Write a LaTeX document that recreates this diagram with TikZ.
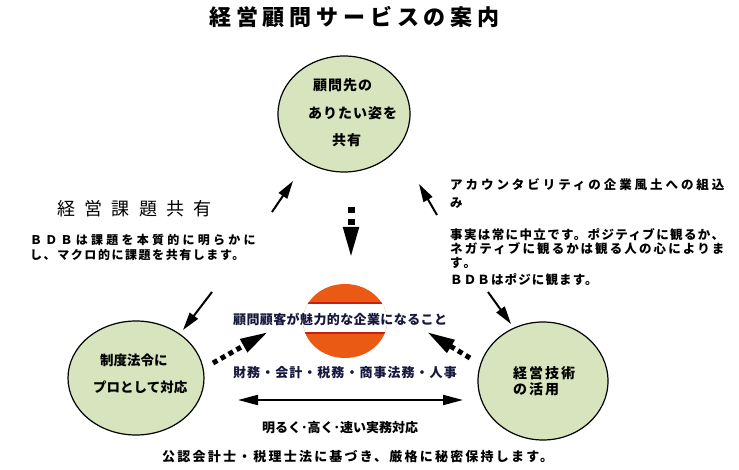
\documentclass[tikz,border=0pt]{standalone}
\usepackage{fontspec}
\newfontfamily\jp{Noto Sans CJK JP}
\usetikzlibrary{arrows.meta,shapes.geometric}
\definecolor{cgreen}{HTML}{D7E4BD}
\definecolor{corange}{HTML}{EB5A14}
\definecolor{cred}{HTML}{C8200A}
\definecolor{cnavy}{HTML}{16163E}
\newcommand{\fs}[2]{\fontsize{#1}{#1}\selectfont\addfontfeature{LetterSpace=#2}}
\tikzset{
  bubble/.style={ellipse, draw=black, line width=1.2pt, fill=cgreen, inner sep=0pt},
  txt/.style={anchor=west, inner sep=0pt, font=\jp\bfseries},
  sarrow/.style={line width=2pt, -{Triangle[length=18pt,width=10pt]}},
  dotarrow/.style={line width=5pt, dash pattern=on 5pt off 4pt, -{Triangle[length=28pt,width=14pt]}},
  vdotarrow/.style={line width=7pt, dash pattern=on 6pt off 6pt, -{Triangle[length=33pt,width=14pt]}},
  dblarrow/.style={line width=2pt, {Triangle[length=20pt,width=10pt]}-{Triangle[length=20pt,width=10pt]}}
}
\begin{document}
\begin{tikzpicture}[x=1pt,y=-1pt]
\useasboundingbox (0,0) rectangle (739,470);
\fill[white] (0,0) rectangle (739,470);

% title
\node[txt] (title) at (209,17) {\fs{22}{22}経営顧問サービスの案内};

% bubbles
\node[bubble, minimum width=132pt, minimum height=116pt] (top) at (344,114) {};
\node[bubble, minimum width=136pt, minimum height=114pt] (left) at (136,378) {};
\node[bubble, minimum width=130pt, minimum height=118pt] (right) at (543,381) {};

\node[txt] (t1) at (313,85) {\fs{14}{7}顧問先の};
\node[txt] (t2) at (308,113) {\fs{14}{7}ありたい姿を};
\node[txt] (t3) at (332,140) {\fs{14}{7}共有};

\node[txt] (l1) at (100,360) {\fs{13.5}{0}制度法令に};
\node[txt] (l2) at (93,387) {\fs{13.5}{0}プロとして対応};

\node[txt] (r1) at (513,373) {\fs{14}{14}経営技術};
\node[txt] (r2) at (513,389) {\fs{14}{14}の活用};

% core
\node[ellipse, fill=corange, minimum width=84pt, minimum height=74pt, inner sep=0pt] (core) at (345,321) {};
\begin{scope}
  \clip (core.center) ellipse (42 and 37);
  \fill[white] (300,303) rectangle (390,333);
  \draw[cred, line width=1.5pt] (300,303) -- (390,303);
  \draw[cred, line width=1.5pt] (300,333) -- (390,333);
\end{scope}
\node[txt, text=cnavy] (c1) at (233,319) {\fs{13}{3}顧問顧客が魅力的な企業になること};
\node[txt, text=cnavy] (c2) at (233,373) {\fs{13}{8}財務・会計・税務・商事法務・人事};

% left text
\node[anchor=west, inner sep=0pt, font=\jp] (h1) at (57,209) {\fs{18}{52}経営課題共有};
\node[txt] (h2) at (30,240) {\fs{12}{27}ＢＤＢは課題を本質的に明らかに};
\node[txt] (h3) at (30,255) {\fs{12}{13}し、マクロ的に課題を共有します。};

% right text
\node[txt] (k1) at (450,185) {\fs{12.5}{23.5}アカウンタビリティの企業風土への組込};
\node[txt] (k2) at (450,203) {\fs{12.5}{23.5}み};
\node[txt] (k3) at (450,235) {\fs{12.5}{11}事実は常に中立です。ポジティブに観るか、};
\node[txt] (k4) at (450,249) {\fs{12.5}{17}ネガティブに観るかは観る人の心によりま};
\node[txt] (k5) at (450,263) {\fs{12.5}{17}す。};
\node[txt] (k6) at (450,280) {\fs{12.5}{9}ＢＤＢはポジに観ます。};

% bottom text
\node[inner sep=0pt, font=\jp\bfseries] (b1) at (340,428) {\fs{13}{0}明るく･高く･速い実務対応};
\node[txt] (b2) at (162,457) {\fs{13}{17}公認会計士・税理士法に基づき、厳格に秘密保持します。};

% arrows
\coordinate (a1s) at (272,212); \coordinate (a1e) at (293,181);
\coordinate (a2s) at (437,215); \coordinate (a2e) at (419,184);
\coordinate (a3s) at (212,292); \coordinate (a3e) at (183,330);
\coordinate (a4s) at (488,292); \coordinate (a4e) at (511,324);
\draw[sarrow] (a1s) -- (a1e);
\draw[sarrow] (a2s) -- (a2e);
\draw[sarrow] (a3s) -- (a3e);
\draw[sarrow] (a4s) -- (a4e);

\coordinate (d1s) at (213,363); \coordinate (d1e) at (268,332);
\coordinate (d2s) at (470,358); \coordinate (d2e) at (427,332);
\coordinate (d3s) at (351,207); \coordinate (d3e) at (351,260);
\draw[dotarrow] (d1s) -- (d1e);
\draw[dotarrow] (d2s) -- (d2e);
\draw[vdotarrow] (d3s) -- (d3e);

\coordinate (e1) at (238,400); \coordinate (e2) at (463,400);
\draw[dblarrow] (e1) -- (e2);
\end{tikzpicture}
\end{document}
